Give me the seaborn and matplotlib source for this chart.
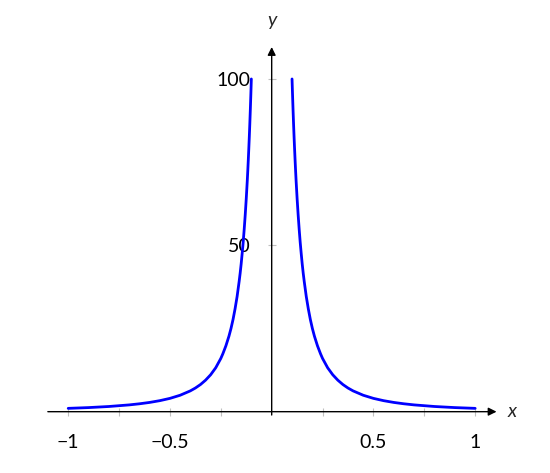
import matplotlib
matplotlib.use("Agg")
import matplotlib.pyplot as plt
import seaborn as sns

# right branch
x_right = [0.1, 0.1025, 0.105, 0.1075, 0.11, 0.1125, 0.115, 0.1175, 0.12, 0.125,
           0.13, 0.135, 0.14, 0.145, 0.15, 0.155, 0.16, 0.17, 0.18, 0.19, 0.2,
           0.21, 0.225, 0.24, 0.25, 0.275, 0.3, 0.325, 0.35, 0.375, 0.4, 0.45,
           0.5, 0.55, 0.6, 0.65, 0.7, 0.8, 0.9, 1.0]
y_right = [100, 95.2, 90.7, 86.5, 82.6, 79.0, 75.6, 72.4, 69.4, 64.0,
           59.2, 54.9, 51.0, 47.6, 44.4, 41.6, 39.1, 34.6, 30.9, 27.7, 25.0,
           22.7, 19.8, 17.4, 16.0, 13.2, 11.1, 9.47, 8.16, 7.11, 6.25, 4.94,
           4.0, 3.31, 2.78, 2.37, 2.04, 1.56, 1.23, 1.0]
# left branch (mirror image)
x_left = [-1.0, -0.9, -0.8, -0.7, -0.65, -0.6, -0.55, -0.5, -0.45, -0.4, -0.375,
          -0.35, -0.325, -0.3, -0.275, -0.25, -0.24, -0.225, -0.21, -0.2, -0.19,
          -0.18, -0.17, -0.16, -0.155, -0.15, -0.145, -0.14, -0.135, -0.13,
          -0.125, -0.12, -0.1175, -0.115, -0.1125, -0.11, -0.1075, -0.105, -0.1025, -0.1]
y_left = [1.0, 1.23, 1.56, 2.04, 2.37, 2.78, 3.31, 4.0, 4.94, 6.25, 7.11,
          8.16, 9.47, 11.1, 13.2, 16.0, 17.4, 19.8, 22.7, 25.0, 27.7,
          30.9, 34.6, 39.1, 41.6, 44.4, 47.6, 51.0, 54.9, 59.2,
          64.0, 69.4, 72.4, 75.6, 79.0, 82.6, 86.5, 90.7, 95.2, 100]

x_ticks = [-1, -0.75, -0.5, -0.25, 0.25, 0.5, 0.75, 1]
x_ticklabels = ["−1", "", "−0.5", "", "", "0.5", "", "1"]
y_ticks = [50, 100]
y_ticklabels = ["50", "100"]

sns.set_style("white")
plt.rcParams["font.family"] = ["Lato", "DejaVu Sans"]

fig = plt.figure(figsize=(5.5, 4.73), dpi=100)
ax = fig.add_axes([0.087, 0.1226, 0.8158, 0.778])

sns.lineplot(x=x_left, y=y_left, ax=ax, color="#0000ff", linewidth=2.0)
sns.lineplot(x=x_right, y=y_right, ax=ax, color="#0000ff", linewidth=2.0)

ax.set_xlim(-1.1, 1.105)
ax.set_ylim(-1, 109.6)

for s in ax.spines.values():
    s.set_visible(False)
ax.spines["bottom"].set_position(("data", 0))
ax.spines["left"].set_position(("data", 0))

ax.set_xticks(x_ticks)
ax.set_xticklabels(x_ticklabels)
ax.set_yticks(y_ticks)
ax.set_yticklabels(y_ticklabels)
ax.tick_params(axis="both", direction="inout", length=6, width=0.8,
               color="#c0c0c0", labelsize=14, labelcolor="black", pad=12)
ax.tick_params(axis="x", bottom=True, pad=13)
ax.tick_params(axis="y", left=True)

arrow = dict(arrowstyle="-|>", color="black", lw=1.0, mutation_scale=12,
             shrinkA=0, shrinkB=0)
ax.annotate("", xy=(1.105, 0), xytext=(-1.1, 0), arrowprops=arrow)
ax.annotate("", xy=(0, 109.6), xytext=(0, -1), arrowprops=arrow,
            annotation_clip=False)

ax.text(1.18, 0, "x", fontsize=14, style="italic", ha="center", va="center",
        clip_on=False)
ax.text(0, 117.5, "y", fontsize=14, style="italic", ha="center", va="center",
        clip_on=False)
ax.set_xlabel("")
ax.set_ylabel("")

fig.savefig("out.png", dpi=100)
